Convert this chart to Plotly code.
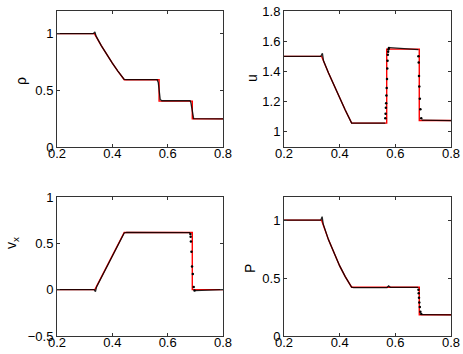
import plotly.graph_objects as go

# --- density rho ---
rho_exact_x = [0.2, 0.335, 0.36, 0.38, 0.40, 0.42, 0.443, 0.569, 0.569, 0.689, 0.689, 0.8]
rho_exact_y = [1.0, 1.0, 0.895, 0.815, 0.74, 0.67, 0.594, 0.594, 0.405, 0.405, 0.248, 0.248]
rho_num_x = [0.2, 0.331, 0.337, 0.341, 0.36, 0.38, 0.40, 0.42, 0.443, 0.45, 0.562, 0.566, 0.569, 0.573, 0.579,
             0.681, 0.684, 0.687, 0.690, 0.694, 0.8]
rho_num_y = [1.0, 1.0, 1.015, 0.98, 0.895, 0.815, 0.74, 0.67, 0.597, 0.594, 0.594, 0.57, 0.49, 0.42, 0.408,
             0.408, 0.39, 0.34, 0.29, 0.25, 0.248]

# --- internal energy u ---
u_exact_x = [0.2, 0.335, 0.36, 0.38, 0.40, 0.42, 0.443, 0.569, 0.569, 0.686, 0.686, 0.8]
u_exact_y = [1.5, 1.5, 1.39, 1.305, 1.225, 1.145, 1.058, 1.058, 1.548, 1.548, 1.075, 1.075]
u_num_x = [0.2, 0.332, 0.338, 0.342, 0.36, 0.38, 0.40, 0.42, 0.443, 0.564, None, 0.58, 0.683, None, 0.695, 0.8]
u_num_y = [1.5, 1.5, 1.52, 1.47, 1.39, 1.305, 1.225, 1.145, 1.058, 1.058, None, 1.558, 1.545, None, 1.078, 1.075]
u_dot_x = [0.564, 0.565, 0.566, 0.567, 0.568, 0.569, 0.570, 0.571, 0.572, 0.573, 0.574, 0.575, 0.577,
           0.683, 0.684, 0.685, 0.686, 0.688, 0.690, 0.693]
u_dot_y = [1.09, 1.12, 1.16, 1.19, 1.24, 1.29, 1.35, 1.42, 1.47, 1.51, 1.53, 1.545, 1.555,
           1.50, 1.46, 1.37, 1.30, 1.22, 1.15, 1.09]

# --- velocity v_x ---
vx_exact_x = [0.2, 0.337, 0.443, 0.689, 0.689, 0.8]
vx_exact_y = [0.0, 0.0, 0.617, 0.617, 0.0, 0.0]
vx_num_x = [0.2, 0.334, 0.339, 0.343, 0.443, 0.452, 0.681, None, 0.697, 0.8]
vx_num_y = [0.0, 0.0, -0.022, 0.03, 0.612, 0.618, 0.615, None, -0.01, 0.0]
vx_dot_x = [0.682, 0.683, 0.684, 0.686, 0.688, 0.691, 0.694, 0.697]
vx_dot_y = [0.60, 0.57, 0.52, 0.41, 0.25, 0.17, 0.03, -0.01]

# --- pressure P ---
p_exact_x = [0.2, 0.335, 0.36, 0.38, 0.40, 0.42, 0.443, 0.686, 0.686, 0.8]
p_exact_y = [1.0, 1.0, 0.83, 0.71, 0.605, 0.513, 0.421, 0.421, 0.183, 0.183]
p_num_x = [0.2, 0.332, 0.337, 0.341, 0.36, 0.38, 0.40, 0.42, 0.443, 0.45, 0.570, 0.576, 0.582, 0.682, None, 0.696, 0.8]
p_num_y = [1.0, 1.0, 1.03, 0.965, 0.83, 0.71, 0.605, 0.513, 0.421, 0.418, 0.418, 0.432, 0.42, 0.42, None, 0.185, 0.183]
p_dot_x = [0.683, 0.684, 0.685, 0.686, 0.688, 0.690, 0.693]
p_dot_y = [0.40, 0.37, 0.33, 0.29, 0.25, 0.21, 0.19]

x_ticks = [0.2, 0.4, 0.6, 0.8]

panels = [
    # exact x, exact y, num x, num y, dots x, dots y, axis suffix
    (rho_exact_x, rho_exact_y, rho_num_x, rho_num_y, [], [], ''),
    (u_exact_x, u_exact_y, u_num_x, u_num_y, u_dot_x, u_dot_y, '2'),
    (vx_exact_x, vx_exact_y, vx_num_x, vx_num_y, vx_dot_x, vx_dot_y, '3'),
    (p_exact_x, p_exact_y, p_num_x, p_num_y, p_dot_x, p_dot_y, '4'),
]

fig = go.Figure()

for ex, ey, nx, ny, dx, dy, k in panels:
    # exact solution (red)
    fig.add_trace(go.Scatter(x=ex, y=ey, mode='lines', line=dict(color='#ff0000', width=1.4),
                             xaxis='x' + k, yaxis='y' + k, showlegend=False))
    # numerical result (black)
    fig.add_trace(go.Scatter(x=nx, y=ny, mode='lines', line=dict(color='black', width=1.3),
                             opacity=0.85, xaxis='x' + k, yaxis='y' + k, showlegend=False))
    if dx:
        fig.add_trace(go.Scatter(x=dx, y=dy, mode='markers', marker=dict(color='black', size=2.5),
                                 xaxis='x' + k, yaxis='y' + k, showlegend=False))

ax_style = dict(showline=True, linecolor='#333', linewidth=1, mirror='ticks', ticks='inside',
                ticklen=3, tickcolor='#333', showgrid=False, zeroline=False, automargin=False,
                tickfont=dict(size=13, color='black'))

left = [57 / 463, 223 / 463]
right = [284 / 463, 451 / 463]
top = [1 - 147 / 354, 1 - 11 / 354]
bottom = [1 - 336 / 354, 1 - 197 / 354]

fig.update_layout(
    width=463, height=354, autosize=False,
    margin=dict(l=0, r=0, t=0, b=0, pad=0, autoexpand=False),
    plot_bgcolor='white', paper_bgcolor='white',
    font=dict(family='Liberation Sans, Arial, sans-serif', color='black'),
    xaxis=dict(domain=left, anchor='y', range=[0.2, 0.8], tickvals=x_ticks, ticklabelstandoff=-6, **ax_style),
    yaxis=dict(domain=top, anchor='x', range=[0, 1.2], tickvals=[0, 0.5, 1], **ax_style),
    xaxis2=dict(domain=right, anchor='y2', range=[0.2, 0.8], tickvals=x_ticks, ticklabelstandoff=-6, **ax_style),
    yaxis2=dict(domain=top, anchor='x2', range=[0.9, 1.8], tickvals=[1, 1.2, 1.4, 1.6, 1.8], **ax_style),
    xaxis3=dict(domain=left, anchor='y3', range=[0.2, 0.8], tickvals=x_ticks, ticklabelstandoff=-6, **ax_style),
    yaxis3=dict(domain=bottom, anchor='x3', range=[-0.5, 1], tickvals=[-0.5, 0, 0.5, 1], **ax_style),
    xaxis4=dict(domain=right, anchor='y4', range=[0.2, 0.8], tickvals=x_ticks, ticklabelstandoff=-6, **ax_style),
    yaxis4=dict(domain=bottom, anchor='x4', range=[0, 1.2], tickvals=[0, 0.5, 1], **ax_style),
)

# y labels, rotated like the original
labels = [('ρ', 21, 81), ('u', 252, 78), ('v<sub>x</sub>', 12, 243), ('P', 250, 268)]
for txt, px, py in labels:
    fig.add_annotation(text=txt, x=px / 463, y=1 - py / 354, xref='paper', yref='paper',
                       showarrow=False, textangle=-90, font=dict(size=14, color='black'),
                       xanchor='center', yanchor='middle')

# page body has a default 8px margin, drop it so the figure sits at the window corner
fig.write_html("out.html", config={'displayModeBar': False, 'responsive': False},
               post_script="document.body.style.margin = '0';")
